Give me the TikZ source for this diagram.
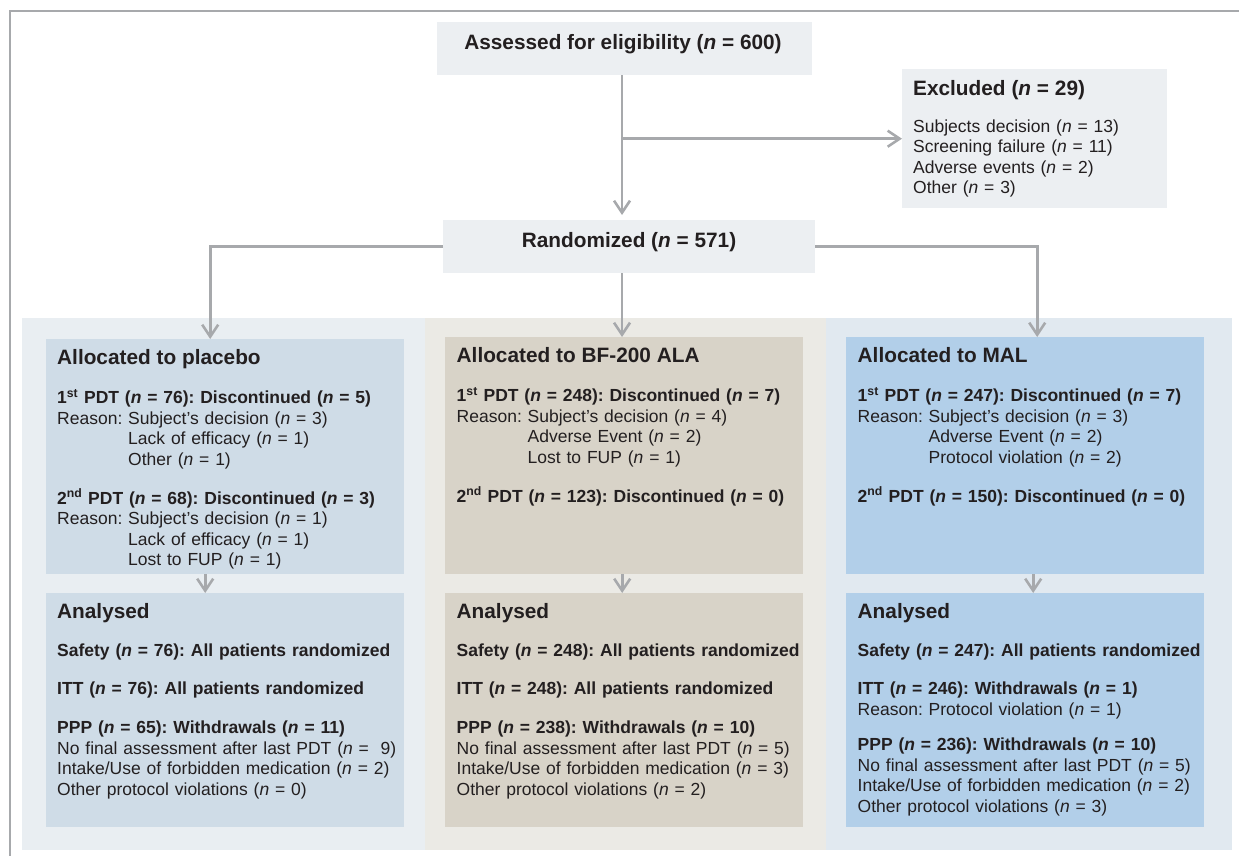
\documentclass[tikz,border=0pt]{standalone}
\usepackage{fontspec}
\setmainfont{Liberation Sans}
\usetikzlibrary{arrows.meta}
\definecolor{txt}{HTML}{231F20}
\definecolor{conncol}{HTML}{A7A9AC}
\definecolor{topbox}{HTML}{ECEFF2}
\definecolor{bandA}{HTML}{E9EEF2}
\definecolor{boxA}{HTML}{CFDCE7}
\definecolor{bandB}{HTML}{EBEAE5}
\definecolor{boxB}{HTML}{D8D3C8}
\definecolor{bandC}{HTML}{E1E9F0}
\definecolor{boxC}{HTML}{B2CFE9}
\newcommand{\ttl}{\fontsize{20.8}{20.5}\selectfont\bfseries}
\newcommand{\bdy}{\fontsize{17.5}{20.5}\selectfont\frenchspacing}
\newcommand{\nq}[1]{(\textit{n} = #1)}
\newcommand{\rind}{\hphantom{Reason: }}
\frenchspacing
\begin{document}
\begin{tikzpicture}[x=1pt,y=-1pt,
  panel/.style={fill=#1, draw=none, inner sep=0pt, anchor=north west},
  txtblock/.style={anchor=base west, inner sep=0pt, align=left, text width=360pt, font=\bdy, text=txt},
  ctitle/.style={anchor=base, inner sep=0pt, font=\ttl, text=txt},
  conn/.style={draw=conncol, line width=2.6pt, -{Straight Barb[length=12pt,width=16pt]}},
  frame/.style={draw=conncol, line width=2.2pt}]
\useasboundingbox (0,0) rectangle (1239,855);
% outer frame
\draw[frame] (10,856) -- (10,11) -- (1240,11);
% column bands
\fill[bandA] (22,318) rectangle (424.5,850);
\fill[bandB] (424.5,318) rectangle (826,850);
\fill[bandC] (826,318) rectangle (1232,850);
% top boxes
\node[panel=topbox, minimum width=375pt, minimum height=53pt] (assess) at (437,22) {};
\node[ctitle] at (623,49) {Assessed for eligibility (\textit{n} = 600)};
\node[panel=topbox, minimum width=372pt, minimum height=53pt] (rand) at (443,220) {};
\node[ctitle] at (629,247) {Randomized (\textit{n} = 571)};
\node[panel=topbox, minimum width=265pt, minimum height=139pt] (excl) at (902,69) {};
\node[txtblock] at (913,95) {{\ttl Excluded \nq{29}}\\[16.5pt]
Subjects decision \nq{13}\\
Screening failure \nq{11}\\
Adverse events \nq{2}\\
Other \nq{3}};
% allocation boxes
\node[panel=boxA, minimum width=358pt, minimum height=235pt] (allocA) at (46,339) {};
\node[panel=boxB, minimum width=358pt, minimum height=237pt] (allocB) at (445,337) {};
\node[panel=boxC, minimum width=358pt, minimum height=237pt] (allocC) at (846,337) {};
\node[panel=boxA, minimum width=358pt, minimum height=234pt] (anaA) at (46,593) {};
\node[panel=boxB, minimum width=358pt, minimum height=234pt] (anaB) at (445,593) {};
\node[panel=boxC, minimum width=358pt, minimum height=234pt] (anaC) at (846,593) {};
% texts
\node[txtblock] at (57,364) {{\ttl Allocated to placebo}\\[19pt]
\textbf{1\textsuperscript{st} PDT \nq{76}: Discontinued \nq{5}}\\
Reason: Subject’s decision \nq{3}\\
\rind Lack of efficacy \nq{1}\\
\rind Other \nq{1}\\[18.5pt]
\textbf{2\textsuperscript{nd} PDT \nq{68}: Discontinued \nq{3}}\\
Reason: Subject’s decision \nq{1}\\
\rind Lack of efficacy \nq{1}\\
\rind Lost to FUP \nq{1}};
\node[txtblock] at (456.5,362) {{\ttl Allocated to BF-200 ALA}\\[19pt]
\textbf{1\textsuperscript{st} PDT \nq{248}: Discontinued \nq{7}}\\
Reason: Subject’s decision \nq{4}\\
\rind Adverse Event \nq{2}\\
\rind Lost to FUP \nq{1}\\[18.5pt]
\textbf{2\textsuperscript{nd} PDT \nq{123}: Discontinued \nq{0}}};
\node[txtblock] at (857.5,362) {{\ttl Allocated to MAL}\\[19pt]
\textbf{1\textsuperscript{st} PDT \nq{247}: Discontinued \nq{7}}\\
Reason: Subject’s decision \nq{3}\\
\rind Adverse Event \nq{2}\\
\rind Protocol violation \nq{2}\\[18.5pt]
\textbf{2\textsuperscript{nd} PDT \nq{150}: Discontinued \nq{0}}};
\node[txtblock] at (57,618) {{\ttl Analysed}\\[18pt]
\textbf{Safety \nq{76}: All patients randomized}\\[17.5pt]
\textbf{ITT \nq{76}: All patients randomized}\\[18.5pt]
\textbf{PPP \nq{65}: Withdrawals \nq{11}}\\
No final assessment after last PDT (\textit{n} =\ \ 9)\\
Intake/Use of forbidden medication \nq{2}\\
Other protocol violations \nq{0}};
\node[txtblock] at (456.5,618) {{\ttl Analysed}\\[18pt]
\textbf{Safety \nq{248}: All patients randomized}\\[17.5pt]
\textbf{ITT \nq{248}: All patients randomized}\\[18.5pt]
\textbf{PPP \nq{238}: Withdrawals \nq{10}}\\
No final assessment after last PDT \nq{5}\\
Intake/Use of forbidden medication \nq{3}\\
Other protocol violations \nq{2}};
\node[txtblock] at (857.5,618) {{\ttl Analysed}\\[18pt]
\textbf{Safety \nq{247}: All patients randomized}\\[17.5pt]
\textbf{ITT \nq{246}: Withdrawals \nq{1}}\\
Reason: Protocol violation \nq{1}\\[15pt]
\textbf{PPP \nq{236}: Withdrawals \nq{10}}\\
No final assessment after last PDT \nq{5}\\
Intake/Use of forbidden medication \nq{2}\\
Other protocol violations \nq{3}};
% connectors
\coordinate (vx) at (622,0);
\draw[conn] (assess.south -| vx) -- ([yshift=5pt]rand.north -| vx);
\draw[conn] (vx |- excl.west) -- (excl.west);
\draw[conn] (rand.west) -| ([xshift=-15pt]allocA.north);
\draw[conn] (rand.south -| vx) -- (allocB.north -| vx);
\draw[conn] (rand.east) -| ([xshift=12pt]allocC.north);
\draw[conn] ([xshift=-20pt]allocA.south) -- ([xshift=-20pt]anaA.north);
\draw[conn] ([xshift=-2pt]allocB.south) -- ([xshift=-2pt]anaB.north);
\draw[conn] ([xshift=8pt]allocC.south) -- ([xshift=8pt]anaC.north);
\end{tikzpicture}
\end{document}
